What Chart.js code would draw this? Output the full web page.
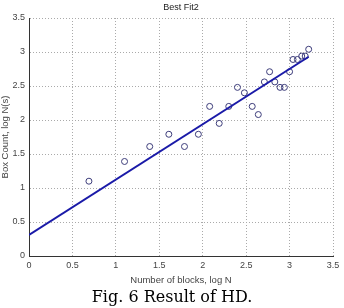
<!DOCTYPE html>
<html>
<head>
<meta charset="utf-8">
<script src="https://cdn.jsdelivr.net/npm/chart.js@4"></script>
<style>
  html, body { margin: 0; padding: 0; background: #fff; }
</style>
</head>
<body>
<canvas id="fitChart" width="344" height="308"></canvas>
<script>
// values
const logN = [0.69, 1.10, 1.39, 1.61, 1.79, 1.95, 2.08, 2.19, 2.30, 2.40, 2.48, 2.57,
              2.64, 2.71, 2.77, 2.83, 2.89, 2.94, 3.00, 3.04, 3.09, 3.14, 3.18, 3.22];
const boxCount = [1.10, 1.39, 1.61, 1.79, 1.61, 1.79, 2.20, 1.95, 2.20, 2.48, 2.40, 2.20,
                  2.08, 2.56, 2.71, 2.56, 2.48, 2.48, 2.71, 2.89, 2.89, 2.94, 2.94, 3.04];
// best fit line end points
const fitX = [0, 3.22];
const fitY = [0.31, 2.93];
// tick labels
const xTicks = [0, 0.5, 1, 1.5, 2, 2.5, 3, 3.5];
const yTicks = [0, 0.5, 1, 1.5, 2, 2.5, 3, 3.5];

const chartTitle = 'Best Fit2';
const caption = 'Fig. 6 Result of HD.';

// title + caption drawn as text on the canvas
const textPlugin = {
    id: 'texts',
    afterDraw(chart) {
        const ctx = chart.ctx;
        const area = chart.chartArea;
        ctx.save();
        ctx.fillStyle = '#222';
        ctx.textAlign = 'center';
        ctx.textBaseline = 'middle';
        ctx.font = '9px "Liberation Sans", Arial, sans-serif';
        ctx.fillText(chartTitle, (area.left + area.right) / 2, 8);
        ctx.fillStyle = '#000';
        ctx.textBaseline = 'alphabetic';
        ctx.font = '16px "DejaVu Serif", serif';
        ctx.fillText(caption, 172, 302);
        ctx.restore();
    }
};

function axisOpts(ticks, title, size) {
    return {
        type: 'linear',
        min: 0,
        max: 3.5,
        afterBuildTicks: (s) => { s.ticks = ticks.map(v => ({ value: v })); },
        afterFit: size,
        grid: { color: '#aaa', drawTicks: false, lineWidth: 1 },
        border: { color: '#333', width: 1, dash: [1, 2] },
        ticks: {
            color: '#444',
            padding: 4,
            font: { family: '"Liberation Sans", Arial, sans-serif', size: 9 },
            callback: (v) => String(v)
        },
        title: {
            display: true,
            text: title,
            color: '#444',
            padding: { top: 0, bottom: 2 },
            font: { family: '"Liberation Sans", Arial, sans-serif', size: 9.5 }
        }
    };
}

const ctx = document.getElementById('fitChart').getContext('2d');
new Chart(ctx, {
    type: 'scatter',
    data: {
        datasets: [
            {
                type: 'line',
                label: 'fit',
                data: fitX.map((x, i) => ({ x: x, y: fitY[i] })),
                borderColor: '#1a1aa8',
                borderWidth: 2,
                pointRadius: 0,
                fill: false
            },
            {
                label: 'data',
                data: logN.map((x, i) => ({ x: x, y: boxCount[i] })),
                pointStyle: 'circle',
                pointRadius: 3,
                borderWidth: 1,
                borderColor: '#3c3c7a',
                backgroundColor: 'rgba(0,0,0,0)'
            }
        ]
    },
    options: {
        responsive: false,
        animation: false,
        layout: { padding: { top: 18, right: 11, bottom: 20, left: 0 } },
        scales: {
            x: axisOpts(xTicks, 'Number of blocks, log N', (s) => { s.height = 32; }),
            y: axisOpts(yTicks, 'Box Count, log N(s)', (s) => { s.width = 29; })
        },
        plugins: {
            legend: { display: false },
            tooltip: { enabled: false }
        }
    },
    plugins: [textPlugin]
});
</script>
</body>
</html>
